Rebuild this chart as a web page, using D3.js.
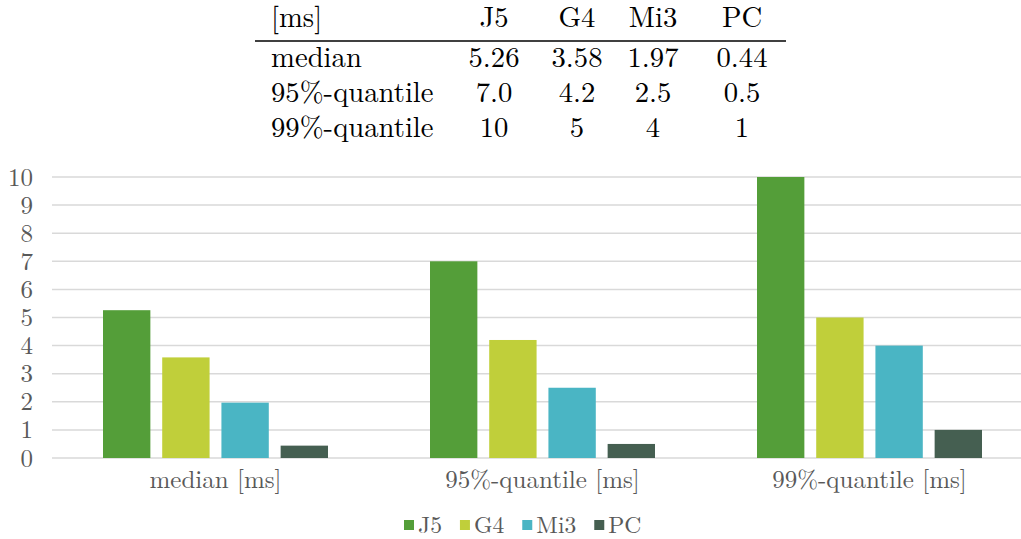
<!DOCTYPE html>
<html>
<head>
<meta charset="utf-8">
<script src="https://cdn.jsdelivr.net/npm/d3@7"></script>
<style>
  body { margin:0; background:#fff; }
</style>
</head>
<body>
<svg></svg>
<script>

// data
var series = ["J5","G4","Mi3","PC"];
var colors = ["#549E39","#C0CF3A","#4AB5C4","#455F51"];
var rowNames = ["median","95%-quantile","99%-quantile"];
var categories = ["median [ms]","95%-quantile [ms]","99%-quantile [ms]"];
var rowFormats = [".2f",".1f","d"];
var J5  = [5.26, 7.0, 10];
var G4  = [3.58, 4.2, 5];
var Mi3 = [1.97, 2.5, 4];
var PC  = [0.44, 0.5, 1];
var yTicks = [0,1,2,3,4,5,6,7,8,9,10];

var values = [J5, G4, Mi3, PC];

var serif = "'Latin Modern Roman', 'Liberation Serif', serif";

var screen = { width:1021, height:539 };
var margins = { top:177, left:52, bottom:81, right:-12 };

var width = screen.width - margins.left - margins.right;
var height = screen.height - margins.top - margins.bottom;

var svg = d3.select("svg").attr("width",screen.width).attr("height",screen.height);

// table on top
var table = svg.append("g").attr("id","table");
var colX = [494, 577, 653, 742];
var headY = 27, rowY = [67, 102, 137];

function cell(x, y, txt, anchor) {
  return table.append("text").attr("x",x).attr("y",y)
    .attr("text-anchor",anchor)
    .style("font-family",serif).style("font-size","28.7px")
    .attr("fill","#000").text(txt);
}

cell(271, headY, "[ms]", "start");
series.forEach(function(s,i){ cell(colX[i], headY, s, "middle"); });

table.append("line").attr("x1",255).attr("x2",786).attr("y1",41).attr("y2",41)
  .attr("stroke","#000").attr("stroke-width",1.5);

rowNames.forEach(function(r,ri){
  cell(271, rowY[ri], r, "start");
  series.forEach(function(s,si){
    cell(colX[si], rowY[ri], d3.format(rowFormats[ri])(values[si][ri]), "middle");
  });
});

// scales
var x0 = d3.scaleBand().domain(categories).range([0,width]).paddingInner(0).paddingOuter(0);
var x1 = d3.scaleBand().domain(series).range([51, x0.bandwidth()-51]).paddingInner(0.2).paddingOuter(0);
var yScale = d3.scaleLinear().domain([0,10]).range([height,0]);

var plot = svg.append("g").attr("id","plot")
  .attr("transform","translate("+margins.left+","+margins.top+")");

// gridlines
plot.selectAll("line.grid").data(yTicks).enter().append("line")
  .attr("class","grid")
  .attr("x1",0).attr("x2",width)
  .attr("y1",function(d){return yScale(d);})
  .attr("y2",function(d){return yScale(d);})
  .attr("stroke","#D9D9D9").attr("stroke-width",1.5);

// bars
var groups = plot.selectAll("g.cat").data(categories).enter().append("g")
  .attr("class","cat")
  .attr("transform",function(d){return "translate("+x0(d)+",0)";});

groups.selectAll("rect")
  .data(function(d,ci){ return series.map(function(s,si){ return {s:s, v:values[si][ci], c:colors[si]}; }); })
  .enter().append("rect")
  .attr("x",function(d){return x1(d.s);})
  .attr("width",x1.bandwidth())
  .attr("y",function(d){return yScale(d.v);})
  .attr("height",function(d){return height - yScale(d.v);})
  .attr("fill",function(d){return d.c;});

// y axis
var yAxis = d3.axisLeft(yScale).tickValues(yTicks).tickSize(0).tickPadding(19);
var yg = plot.append("g").attr("id","yAxis").call(yAxis);
yg.select(".domain").remove();
yg.selectAll("text").style("font-family",serif).style("font-size","25px").attr("fill","#595959");

// x axis
var xAxis = d3.axisBottom(x0).tickSize(0).tickPadding(12);
var xg = plot.append("g").attr("id","xAxis")
  .attr("transform","translate(0,"+height+")").call(xAxis);
xg.select(".domain").remove();
xg.selectAll("text").style("font-family",serif).style("font-size","25px").attr("fill","#595959");

// legend
var legend = svg.append("g").attr("id","legend");
var lx = 404;
series.forEach(function(s,i){
  legend.append("rect").attr("x",lx).attr("y",520).attr("width",10).attr("height",10).attr("fill",colors[i]);
  var t = legend.append("text").attr("x",lx+14).attr("y",533)
    .style("font-family",serif).style("font-size","23.6px").attr("fill","#595959").text(s);
  lx += 14 + t.node().getComputedTextLength() + 18;
});

</script>
</body>
</html>
